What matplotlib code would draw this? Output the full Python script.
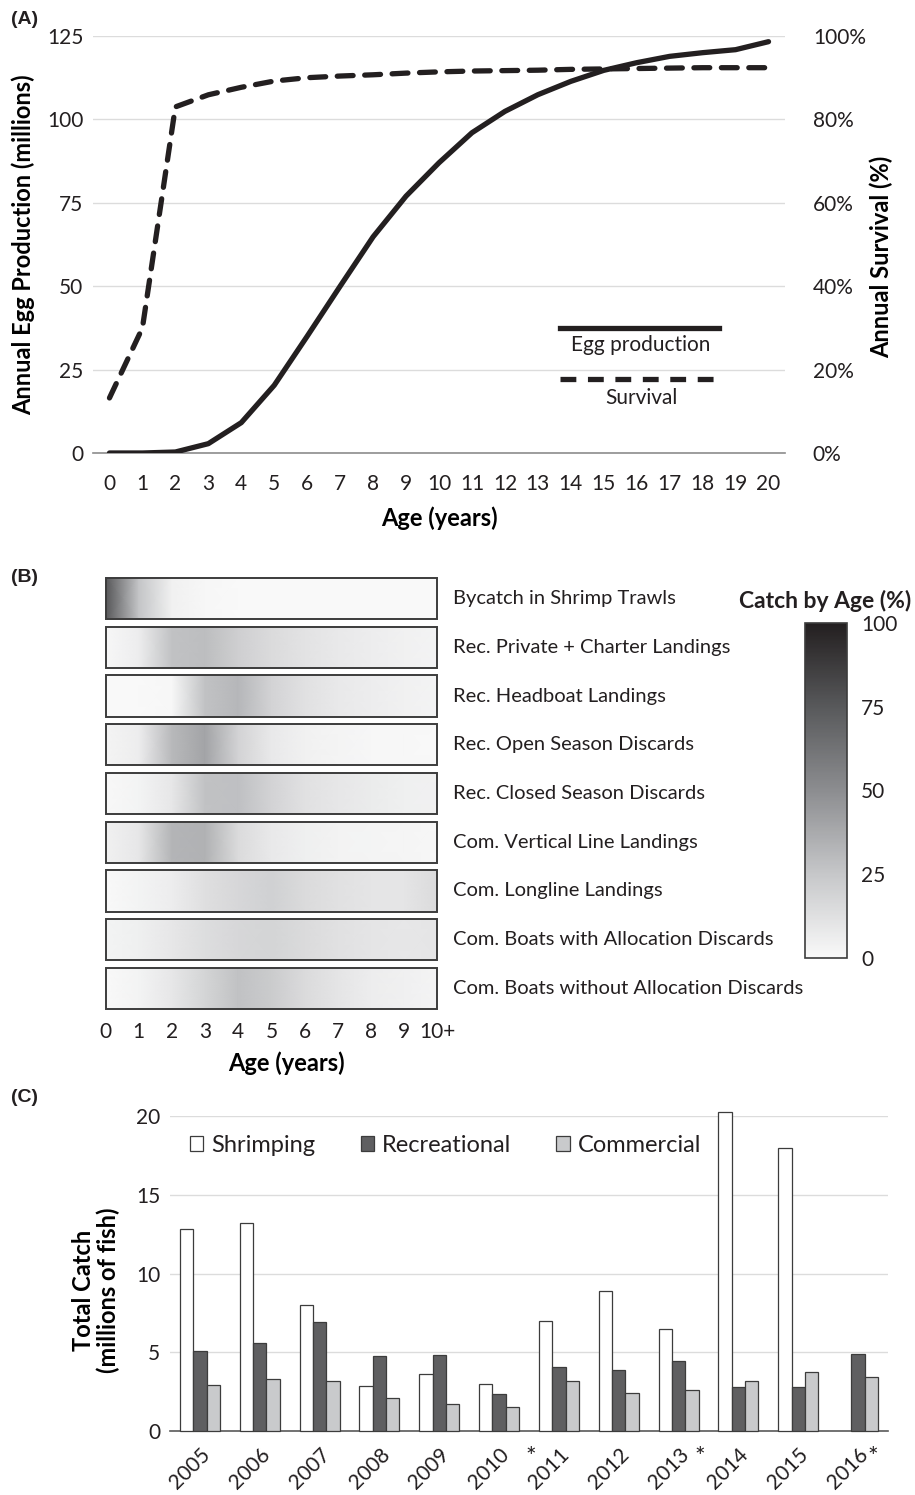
import matplotlib.pyplot as plt
import numpy as np
from matplotlib.colors import LinearSegmentedColormap
from matplotlib.lines import Line2D
from matplotlib.patches import Patch


# (A) egg production and survival by age
AGES = list(range(21))
EGG_PRODUCTION = [0, 0, 0.3, 2.8, 9.1, 20.3, 35, 50, 64.8, 77, 87, 96, 102.4,
                  107.4, 111.4, 114.7, 117, 118.9, 120, 120.9, 123.3]
SURVIVAL = [13.2, 30, 83, 85.9, 87.7, 89.2, 90, 90.4, 90.7, 91.1, 91.4, 91.6,
            91.7, 91.8, 92, 92.1, 92.2, 92.3, 92.4, 92.4, 92.4]

# (B) catch by age (%) for each fleet
FLEET_AGES = list(range(11))
FLEET_AGE_LABELS = ["0", "1", "2", "3", "4", "5", "6", "7", "8", "9", "10+"]
FLEETS = [
    "Bycatch in Shrimp Trawls",
    "Rec. Private + Charter Landings",
    "Rec. Headboat Landings",
    "Rec. Open Season Discards",
    "Rec. Closed Season Discards",
    "Com. Vertical Line Landings",
    "Com. Longline Landings",
    "Com. Boats with Allocation Discards",
    "Com. Boats without Allocation Discards",
]
SHRIMP_BYCATCH = [76, 26, 4, 1, 0, 0, 0, 0, 0, 0, 0]
REC_PRIVATE = [1, 6, 27, 29, 21, 15, 11, 8, 6, 4, 3]
REC_HEADBOAT = [0, 0, 1, 27, 32, 19, 12, 8, 6, 4, 3]
REC_OPEN_DISCARDS = [2.5, 6, 31, 40, 19, 8, 4, 2.5, 1.5, 1, 0.5]
REC_CLOSED_DISCARDS = [0.5, 3, 9, 27, 28, 19, 12, 9, 7, 5, 4]
COM_VERTICAL = [4, 9, 33, 34, 15, 8, 5, 3.5, 2.5, 2, 1.5]
COM_LONGLINE = [0, 3, 6, 13, 17, 20, 15, 12, 10, 10, 15]
COM_WITH_ALLOCATION = [3, 5, 9, 14, 17, 18, 15, 12, 10, 9, 10]
COM_WITHOUT_ALLOCATION = [0, 3, 9, 18, 27, 23, 15, 10, 6, 4.4, 2.5]

# (C) total catch by sector
YEARS = ["2005", "2006", "2007", "2008", "2009", "2010", "2011", "2012",
         "2013", "2014", "2015", "2016"]
SHRIMPING = [12.83, 13.23, 7.98, 2.86, 3.6, 2.96, 6.98, 8.87, 6.46, 20.25,
             17.95, np.nan]
RECREATIONAL = [5.1, 5.59, 6.9, 4.74, 4.83, 2.33, 4.04, 3.89, 4.42, 2.77,
                2.81, 4.89]
COMMERCIAL = [2.9, 3.28, 3.17, 2.07, 1.71, 1.54, 3.17, 2.41, 2.58, 3.15,
              3.72, 3.41]
STARRED_YEARS = ["2010", "2013", "2016"]

W, H = 915, 1495
INK = "#231f20"


def box(left, top, right, bottom):
    return [left / W, 1 - bottom / H, (right - left) / W, (bottom - top) / H]


def panel_letter(fig, top, text):
    fig.text(11 / W, 1 - top / H, text, fontsize=14, fontweight="bold",
             va="center", family=["Liberation Sans", "DejaVu Sans"])


def main() -> None:
    plt.rcParams.update({
        "font.family": ["Lato", "DejaVu Sans"],
        "font.size": 15,
        "text.color": INK,
        "xtick.color": INK,
        "ytick.color": INK,
    })
    fig = plt.figure(figsize=(W / 100, H / 100), dpi=100)
    dashes = (0, (3.0, 2.2))

    # ---------------- panel A ----------------
    ax = fig.add_axes(box(93, 36, 785, 453))
    ax.plot(AGES, EGG_PRODUCTION, color=INK, lw=3.8,
            solid_capstyle="round", solid_joinstyle="round", zorder=3)
    ax.set_xlim(-0.5, 20.5)
    ax.set_ylim(0, 125)
    ax.set_xticks(AGES)
    ax.set_yticks([0, 25, 50, 75, 100, 125])
    ax.grid(axis="y", color="#dcdcdc", lw=1)
    ax.set_axisbelow(True)
    for side in ["top", "right", "left"]:
        ax.spines[side].set_visible(False)
    ax.spines["bottom"].set_color("#8c8c8c")
    ax.spines["bottom"].set_linewidth(1.2)
    ax.tick_params(length=0, labelsize=15)
    ax.tick_params(axis="x", pad=15)
    ax.tick_params(axis="y", pad=7)
    ax.set_xlabel("Age (years)", fontsize=17, fontweight="bold", va="center")
    ax.xaxis.set_label_coords(0.5, -0.156)
    ax.set_ylabel("Annual Egg Production (millions)", fontsize=17,
                  fontweight="bold", va="center")
    ax.yaxis.set_label_coords(-0.101, 0.5)

    ax2 = ax.twinx()
    ax2.plot(AGES, SURVIVAL, color=INK, lw=3.8, ls=dashes,
             dash_capstyle="round", zorder=3)
    ax2.set_ylim(0, 100)
    ax2.set_yticks([0, 20, 40, 60, 80, 100])
    ax2.set_yticklabels([f"{v}%" for v in [0, 20, 40, 60, 80, 100]])
    for side in ["top", "right", "left", "bottom"]:
        ax2.spines[side].set_visible(False)
    ax2.tick_params(length=0, labelsize=15, pad=20)
    ax2.set_ylabel("Annual Survival (%)", fontsize=17, fontweight="bold",
                   va="center", rotation=90)
    ax2.yaxis.set_label_coords(1.140, 0.47)

    # legend drawn as line samples with captions underneath
    ax.add_line(Line2D([0.675, 0.905], [0.30, 0.30], transform=ax.transAxes,
                       color=INK, lw=3.8))
    ax.text(0.792, 0.260, "Egg production", transform=ax.transAxes,
            ha="center", va="center", fontsize=15)
    ax.add_line(Line2D([0.675, 0.905], [0.177, 0.177], transform=ax.transAxes,
                       color=INK, lw=3.8, ls=dashes))
    ax.text(0.792, 0.132, "Survival", transform=ax.transAxes,
            ha="center", va="center", fontsize=15)

    panel_letter(fig, 19, "(A)")

    # ---------------- panel B ----------------
    cmap = LinearSegmentedColormap.from_list(
        "catch", ["#f9f9f9", "#c6c7c9", "#8c8d90", "#58595b", INK])
    rows = [SHRIMP_BYCATCH, REC_PRIVATE, REC_HEADBOAT, REC_OPEN_DISCARDS,
            REC_CLOSED_DISCARDS, COM_VERTICAL, COM_LONGLINE,
            COM_WITH_ALLOCATION, COM_WITHOUT_ALLOCATION]
    half = 0.425
    axb = fig.add_axes(box(104, 577, 439, 1010))
    mesh = None
    for i, (name, values) in enumerate(zip(FLEETS, rows)):
        values = np.asarray(values, dtype=float)
        mesh = axb.pcolormesh(FLEET_AGES, [i - half, i + half],
                              np.vstack([values, values]), shading="gouraud",
                              cmap=cmap, vmin=0, vmax=100)
        axb.add_patch(plt.Rectangle((0, i - half), 10, 2 * half, fill=False,
                                    ec="#3c3c3c", lw=1.4, zorder=3))
        axb.text(1.042, i, name, transform=axb.get_yaxis_transform(),
                 ha="left", va="center", fontsize=14.5)
    axb.set_xlim(-0.05, 10.05)
    axb.set_ylim(len(FLEETS) - 1 + half + 0.02, -half - 0.02)
    axb.set_xticks(FLEET_AGES)
    axb.set_xticklabels(FLEET_AGE_LABELS)
    axb.set_yticks([])
    for side in axb.spines:
        axb.spines[side].set_visible(False)
    axb.tick_params(length=0, labelsize=15, pad=9)
    axb.set_xlabel("Age (years)", fontsize=17, fontweight="bold", va="center")
    axb.xaxis.set_label_coords(0.546, -0.122)

    cax = fig.add_axes(box(805, 623, 847, 958))
    cbar = fig.colorbar(mesh, cax=cax, ticks=[0, 25, 50, 75, 100])
    cbar.outline.set_linewidth(1.2)
    cbar.outline.set_edgecolor("#3c3c3c")
    cax.tick_params(length=0, labelsize=15, pad=10)
    fig.text(825 / W, 1 - 601 / H, "Catch by Age (%)", fontsize=16.5,
             fontweight="bold", ha="center", va="center")

    panel_letter(fig, 577, "(B)")

    # ---------------- panel C ----------------
    axc = fig.add_axes(box(170, 1116, 888, 1431))
    x = np.arange(len(YEARS))
    width = 0.222
    series = [
        ("Shrimping", SHRIMPING, "white"),
        ("Recreational", RECREATIONAL, "#5f5f61"),
        ("Commercial", COMMERCIAL, "#c9cacc"),
    ]
    for k, (label, values, color) in enumerate(series):
        axc.bar(x + (k - 1) * width, values, width=width, color=color,
                edgecolor="#3c3c3c", linewidth=0.9, label=label,
                clip_on=False, zorder=3)
    axc.set_xlim(-0.5, len(YEARS) - 0.5)
    axc.set_ylim(0, 20)
    axc.set_yticks([0, 5, 10, 15, 20])
    axc.set_xticks(x)
    axc.set_xticklabels(YEARS, rotation=45, ha="right",
                        rotation_mode="anchor", fontsize=13)
    axc.grid(axis="y", color="#dcdcdc", lw=1)
    axc.set_axisbelow(True)
    for side in ["top", "right", "left"]:
        axc.spines[side].set_visible(False)
    axc.spines["bottom"].set_color("#5a5a5a")
    axc.spines["bottom"].set_linewidth(1.2)
    axc.tick_params(length=0, labelsize=15)
    axc.tick_params(axis="x", pad=10)
    axc.tick_params(axis="y", pad=7)
    axc.set_ylabel("Total Catch\n(millions of fish)", fontsize=17,
                   fontweight="bold", va="center", linespacing=1.1)
    axc.yaxis.set_label_coords(-0.103, 0.448)
    star_shift = {"2010": 0.53, "2013": 0.35, "2016": 0.25}
    for year in STARRED_YEARS:
        axc.text(YEARS.index(year) + star_shift[year], -0.085, "*",
                 transform=axc.get_xaxis_transform(), ha="center",
                 va="center", fontsize=18)

    handles = [Patch(facecolor=c, edgecolor="#3c3c3c", linewidth=0.9)
               for _, _, c in series]
    axc.legend(handles, [s[0] for s in series], ncol=3, frameon=False,
               loc="upper left", bbox_to_anchor=(0.015, 0.97), fontsize=17,
               handlelength=0.56, handleheight=0.56, handletextpad=0.35,
               columnspacing=1.9, borderaxespad=0)

    panel_letter(fig, 1097, "(C)")

    fig.savefig("out.png", dpi=100)


if __name__ == "__main__":
    main()
